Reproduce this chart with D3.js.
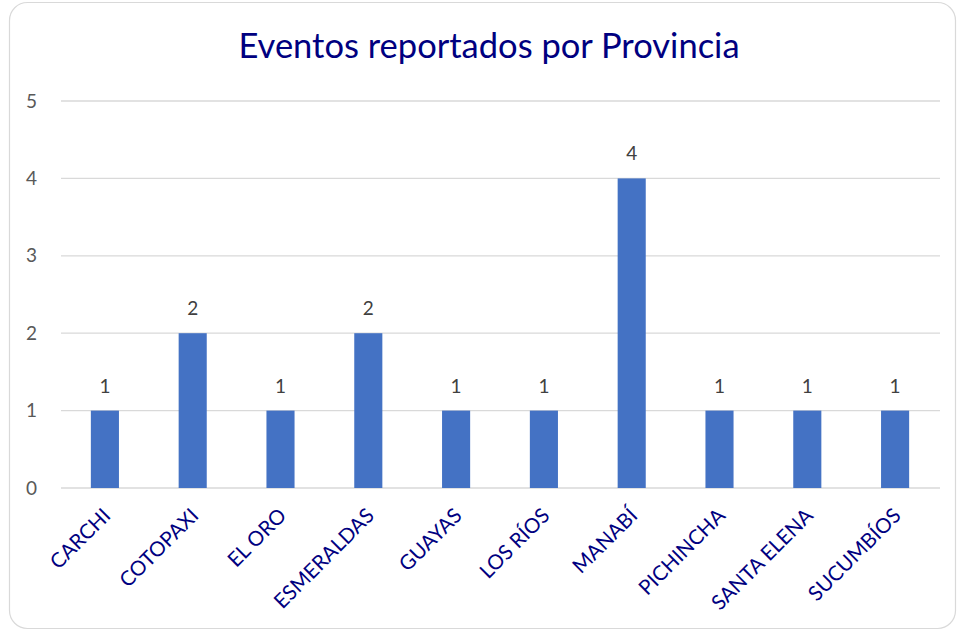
<!DOCTYPE html>
<html>
<head>
<meta charset="utf-8">
<script src="https://cdn.jsdelivr.net/npm/d3@7"></script>
<style>
  html, body { margin: 0; padding: 0; background: #fff; }
  svg { display: block; font-family: Lato, "Open Sans", sans-serif; }
</style>
</head>
<body>
<svg id="chart"></svg>
<script>
const provincias = ['CARCHI', 'COTOPAXI', 'EL ORO', 'ESMERALDAS', 'GUAYAS', 'LOS RÍOS', 'MANABÍ', 'PICHINCHA', 'SANTA ELENA', 'SUCUMBÍOS'];
const eventos = [1, 2, 1, 2, 1, 1, 4, 1, 1, 1];
const yTicks = [0, 1, 2, 3, 4, 5];
const title = 'Eventos reportados por Provincia';

(function () {
  const width = 958, height = 632;
  const margin = { top: 101, right: 18, bottom: 144, left: 61 };

  const svg = d3.select('#chart').attr('width', width).attr('height', height);

  // chart frame
  svg.append('rect')
    .attr('x', 9.5).attr('y', 2.5)
    .attr('width', 946).attr('height', 626)
    .attr('rx', 18)
    .attr('fill', '#fff')
    .attr('stroke', '#d9d9d9')
    .attr('stroke-width', 1.2);

  const x = d3.scaleBand()
    .domain(provincias)
    .range([margin.left, width - margin.right - 1])
    .paddingInner(0.68)
    .paddingOuter(0.34);

  const y = d3.scaleLinear()
    .domain([0, 5])
    .range([height - margin.bottom, margin.top]);

  // gridlines
  svg.append('g')
    .selectAll('line')
    .data(yTicks)
    .join('line')
    .attr('x1', margin.left).attr('x2', 940)
    .attr('y1', d => y(d)).attr('y2', d => y(d))
    .attr('stroke', '#d9d9d9')
    .attr('stroke-width', 1.3);

  // y axis labels
  const yAxis = svg.append('g')
    .attr('transform', `translate(${margin.left - 24},0)`)
    .call(d3.axisLeft(y).tickValues(yTicks).tickFormat(d3.format('d')).tickSize(0).tickPadding(0));
  yAxis.select('.domain').remove();
  yAxis.selectAll('text')
    .attr('fill', '#595959')
    .attr('font-size', 19)
    .attr('font-family', 'Lato, sans-serif');

  // bars
  svg.append('g')
    .selectAll('rect')
    .data(provincias)
    .join('rect')
    .attr('x', d => x(d))
    .attr('width', x.bandwidth())
    .attr('y', (d, i) => y(eventos[i]))
    .attr('height', (d, i) => y(0) - y(eventos[i]))
    .attr('fill', '#4472c4');

  // value labels
  svg.append('g')
    .selectAll('text')
    .data(provincias)
    .join('text')
    .attr('x', d => x(d) + x.bandwidth() / 2)
    .attr('y', (d, i) => y(eventos[i]) - 18)
    .attr('text-anchor', 'middle')
    .attr('font-size', 19)
    .attr('fill', '#404040')
    .text((d, i) => eventos[i]);

  // category labels
  const xAxis = svg.append('g')
    .attr('transform', `translate(0,${y(0)})`)
    .call(d3.axisBottom(x).tickSize(0).tickPadding(0));
  xAxis.select('.domain').remove();
  xAxis.selectAll('text')
    .attr('font-size', 20.5)
    .attr('font-family', 'Lato, sans-serif')
    .attr('fill', '#000080')
    .attr('text-anchor', 'end')
    .attr('dy', null)
    .attr('transform', 'translate(7,29) rotate(-45)');

  // title
  svg.append('text')
    .attr('x', 489)
    .attr('y', 58)
    .attr('text-anchor', 'middle')
    .attr('font-size', 34.5)
    .attr('fill', '#000080')
    .text(title);
})();
</script>
</body>
</html>
